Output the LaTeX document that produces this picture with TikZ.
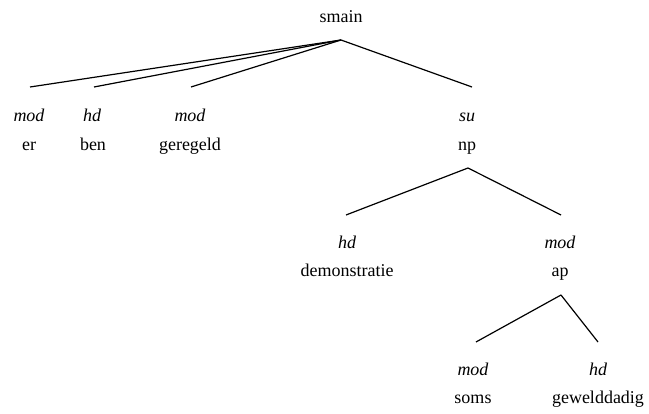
\documentclass[tikz,border=0pt]{standalone}
\usepackage{fontspec}
\setmainfont{Liberation Serif}
\begin{document}
\begin{tikzpicture}[x=1pt,y=-1pt,
  cat/.style={font=\fontsize{18}{20}\selectfont, inner sep=0pt, anchor=base},
  rel/.style={font=\fontsize{18}{20}\selectfont\itshape, inner sep=0pt, anchor=base},
  edge/.style={line width=1.2pt}]
\useasboundingbox (0,0) rectangle (649,414);
% top
\node[cat] (smain) at (341,23) {smain};
\coordinate (a0) at (341,40);
\coordinate (e1) at (30,87);
\coordinate (e2) at (94,87);
\coordinate (e3) at (191,87);
\coordinate (e4) at (472,87);
\node[rel] (l1) at (29,122) {mod};
\node[rel] (l2) at (92,122) {hd};
\node[rel] (l3) at (190,122) {mod};
\node[rel] (l4) at (467,122) {su};
\node[cat] (er) at (29,151) {er};
\node[cat] (ben) at (93,151) {ben};
\node[cat] (geregeld) at (190,151) {geregeld};
\node[cat] (np) at (467,151) {np};
\draw[edge] (a0) -- (e1);
\draw[edge] (a0) -- (e2);
\draw[edge] (a0) -- (e3);
\draw[edge] (a0) -- (e4);
% np
\coordinate (a1) at (468,168);
\coordinate (f1) at (346,215);
\coordinate (f2) at (561,215);
\node[rel] (l5) at (347,249) {hd};
\node[rel] (l6) at (560,249) {mod};
\node[cat] (demo) at (347,277) {demonstratie};
\node[cat] (ap) at (560,277) {ap};
\draw[edge] (a1) -- (f1);
\draw[edge] (a1) -- (f2);
% ap
\coordinate (a2) at (561,295);
\coordinate (g1) at (476,342);
\coordinate (g2) at (598,342);
\node[rel] (l7) at (473,376) {mod};
\node[rel] (l8) at (598,376) {hd};
\node[cat] (soms) at (473,404) {soms};
\node[cat] (gew) at (598,404) {gewelddadig};
\draw[edge] (a2) -- (g1);
\draw[edge] (a2) -- (g2);
\end{tikzpicture}
\end{document}
